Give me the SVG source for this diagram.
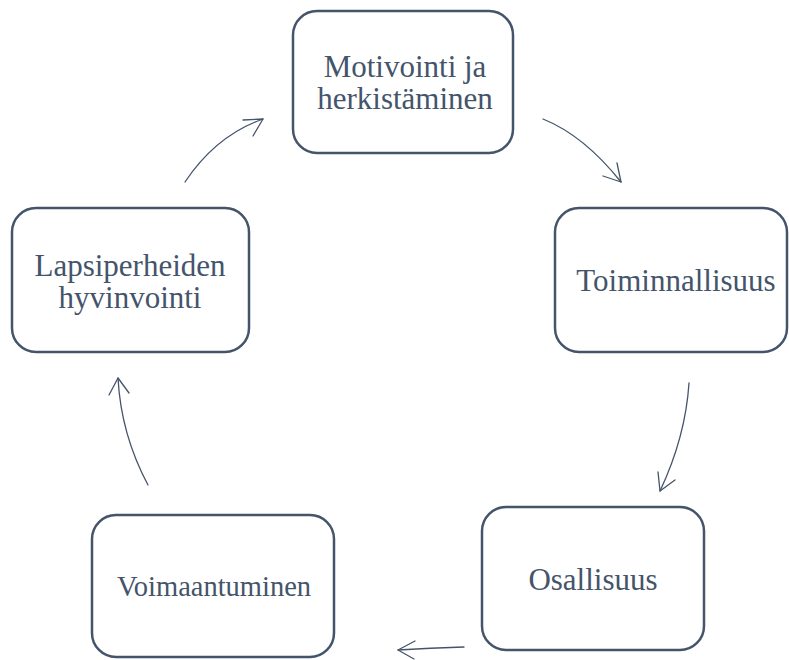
<svg xmlns="http://www.w3.org/2000/svg" width="789" height="660" viewBox="0 0 789 660">
<style>
.box{fill:#ffffff;stroke:#44546A;stroke-width:2.5}
.lbl{font-family:"Liberation Serif","Times New Roman",serif;font-size:31px;fill:#44546A;text-anchor:middle}
.arr{fill:none;stroke:#44546A;stroke-width:1.3;stroke-linecap:round;stroke-linejoin:round}
</style>
<rect width="789" height="660" fill="#ffffff"/>
<g id="connectors">
<path class="arr" d="M185,182 Q216,135.5 263,119"/>
<path class="arr" d="M243,120 L263,119 L253,136"/>
<path class="arr" d="M543,119 Q584,135.5 621,182"/>
<path class="arr" d="M617,163 L621,182 L603,176"/>
<path class="arr" d="M689,383 Q685.5,437 660,491"/>
<path class="arr" d="M658,472 L660,491 L675,480"/>
<path class="arr" d="M464,647 Q430,648 398,650"/>
<path class="arr" d="M415,641 L398,650 L414,659"/>
<path class="arr" d="M148,485 Q121,434.5 118,378"/>
<path class="arr" d="M109,395 L118,378 L129,393"/>
</g>
<g id="node-motivointi">
<rect class="box" x="293" y="11" width="220" height="142" rx="24"/>
<text class="lbl" x="405" y="77">Motivointi ja</text>
<text class="lbl" x="405" y="109">herkistäminen</text>
</g>
<g id="node-toiminnallisuus">
<rect class="box" x="555" y="208" width="232" height="144" rx="24"/>
<text class="lbl" x="676" y="291">Toiminnallisuus</text>
</g>
<g id="node-osallisuus">
<rect class="box" x="482" y="507" width="222" height="143" rx="24"/>
<text class="lbl" x="593" y="590">Osallisuus</text>
</g>
<g id="node-voimaantuminen">
<rect class="box" x="92" y="515" width="242" height="142" rx="24"/>
<text class="lbl" x="214" y="596" style="font-size:28.5px">Voimaantuminen</text>
</g>
<g id="node-lapsiperheiden">
<rect class="box" x="12" y="208" width="237" height="144" rx="24"/>
<text class="lbl" x="130" y="276">Lapsiperheiden</text>
<text class="lbl" x="130" y="308">hyvinvointi</text>
</g>
</svg>
